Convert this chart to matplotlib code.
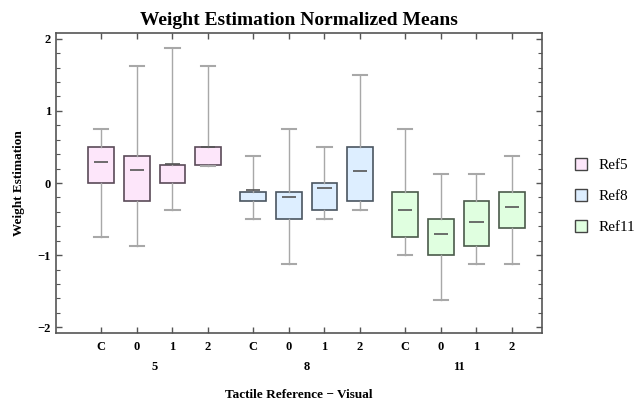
import matplotlib.pyplot as plt
import numpy as np

# data (per reference group: C, 0, 1, 2)
groups = ["5", "8", "11"]
conditions = ["C", "0", "1", "2"]
legend_labels = ["Ref5", "Ref8", "Ref11"]

whislo = [[-0.75, -0.87, -0.375, 0.24],
          [-0.5, -1.12, -0.5, -0.375],
          [-1.0, -1.62, -1.12, -1.12]]
q1 = [[0.0, -0.25, 0.0, 0.25],
      [-0.25, -0.5, -0.375, -0.25],
      [-0.75, -1.0, -0.87, -0.62]]
med = [[0.295, 0.18, 0.27, 0.5],
       [-0.09, -0.19, -0.07, 0.166],
       [-0.38, -0.71, -0.54, -0.33]]
q3 = [[0.5, 0.378, 0.25, 0.5],
      [-0.12, -0.12, 0.0, 0.5],
      [-0.125, -0.5, -0.25, -0.125]]
whishi = [[0.75, 1.625, 1.875, 1.625],
          [0.375, 0.75, 0.5, 1.5],
          [0.75, 0.13, 0.13, 0.378]]

fills = ["#fde6fa", "#ddeeff", "#e0ffe0"]
edges = ["#5a4a58", "#4a5560", "#4a5a4a"]

plt.rcParams['font.family'] = ['Liberation Serif', 'DejaVu Serif']

fig = plt.figure(figsize=(6.38, 4.03), dpi=100)
ax = fig.add_axes([0.0878, 0.1737, 0.7617, 0.7443])

gap = 4.27
positions = []
for g in range(len(groups)):
    pos = [g * gap + i for i in range(len(conditions))]
    positions.append(pos)
    stats = []
    for i in range(len(conditions)):
        stats.append(dict(whislo=whislo[g][i], q1=q1[g][i], med=med[g][i],
                          q3=q3[g][i], whishi=whishi[g][i], fliers=[]))
    ax.bxp(stats, positions=pos, widths=0.72, capwidths=0.4, patch_artist=True,
           showfliers=False,
           boxprops=dict(facecolor=fills[g], edgecolor=edges[g], linewidth=1.2),
           whiskerprops=dict(color="#a8a8a8", linewidth=1.0),
           capprops=dict(color="#a8a8a8", linewidth=1.5),
           medianprops=dict(linestyle="none"))
    ax.hlines(med[g], np.array(pos) - 0.2, np.array(pos) + 0.2,
              color="#555555", linewidth=1.2, zorder=4)

allpos = [p for pos in positions for p in pos]
ax.set_xlim(-1.27, 12.38)
ax.set_ylim(-2.08, 2.08)
ax.set_xticks(allpos)
ax.set_xticklabels(conditions * len(groups), fontweight="bold", fontsize=9)
ax.set_yticks([-2, -1, 0, 1, 2])
ax.set_yticklabels(["\u22122", "\u22121", "0", "1", "2"], fontweight="bold", fontsize=9)
ax.set_yticks(np.arange(-2, 2.01, 0.2), minor=True)
ax.tick_params(axis="both", which="both", direction="in", top=True, right=True,
               color="#555555")
ax.tick_params(axis="both", which="major", length=4, width=1.0)
ax.tick_params(axis="y", which="minor", length=3, width=0.8)
ax.tick_params(axis="x", pad=6)
for s in ax.spines.values():
    s.set_color("#555555")
    s.set_linewidth(1.2)

for g, pos in enumerate(positions):
    ax.text(np.mean(pos), -0.095, groups[g], transform=ax.get_xaxis_transform(),
            ha="center", va="top", fontweight="bold", fontsize=9)

ax.set_xlabel("Tactile Reference \u2212 Visual", fontweight="bold", fontsize=9.5,
              labelpad=26)
ax.set_ylabel("Weight Estimation", fontweight="bold", fontsize=9.5, labelpad=9)
ax.set_title("Weight Estimation Normalized Means", fontweight="bold", fontsize=14,
             pad=6)

handles = [plt.Rectangle((0, 0), 1, 1, facecolor=fills[g], edgecolor="#444444",
                         linewidth=1.0) for g in range(len(groups))]
fig.legend(handles, legend_labels, loc="center left", bbox_to_anchor=(0.88, 0.513),
           frameon=False, fontsize=11, handlelength=0.8, handleheight=0.8,
           handletextpad=0.7, labelspacing=1.1)

fig.savefig("out.png", dpi=100)
